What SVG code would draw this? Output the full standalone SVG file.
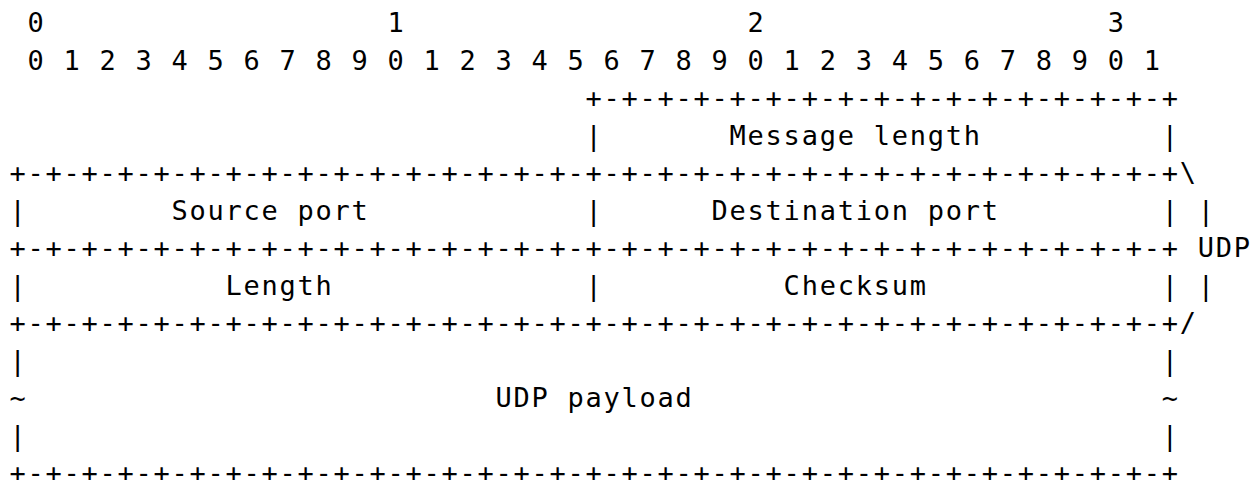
<svg xmlns="http://www.w3.org/2000/svg" width="1252" height="480" viewBox="0 0 1252 480">
<style>
text{font-family:"DejaVu Sans Mono","Liberation Mono",monospace;font-size:27px;letter-spacing:1.75px;fill:#000;white-space:pre}
</style>
<rect width="1252" height="480" fill="#fff"/>
<g id="art" xml:space="preserve">
<text x="9.4" y="32"> 0                   1                   2                   3</text>
<text x="9.4" y="69.5"> 0 1 2 3 4 5 6 7 8 9 0 1 2 3 4 5 6 7 8 9 0 1 2 3 4 5 6 7 8 9 0 1</text>
<text x="9.4" y="107">                                +-+-+-+-+-+-+-+-+-+-+-+-+-+-+-+-+</text>
<text x="9.4" y="144.5">                                |       Message length          |</text>
<text x="9.4" y="182">+-+-+-+-+-+-+-+-+-+-+-+-+-+-+-+-+-+-+-+-+-+-+-+-+-+-+-+-+-+-+-+-+\</text>
<text x="9.4" y="219.5">|        Source port            |      Destination port         | |</text>
<text x="9.4" y="257">+-+-+-+-+-+-+-+-+-+-+-+-+-+-+-+-+-+-+-+-+-+-+-+-+-+-+-+-+-+-+-+-+ UDP</text>
<text x="9.4" y="294.5">|           Length              |          Checksum             | |</text>
<text x="9.4" y="332">+-+-+-+-+-+-+-+-+-+-+-+-+-+-+-+-+-+-+-+-+-+-+-+-+-+-+-+-+-+-+-+-+/</text>
<text x="9.4" y="369.5">|                                                               |</text>
<text x="9.4" y="407">~                          UDP payload                          ~</text>
<text x="9.4" y="444.5">|                                                               |</text>
<text x="9.4" y="482">+-+-+-+-+-+-+-+-+-+-+-+-+-+-+-+-+-+-+-+-+-+-+-+-+-+-+-+-+-+-+-+-+</text>
</g>
</svg>
